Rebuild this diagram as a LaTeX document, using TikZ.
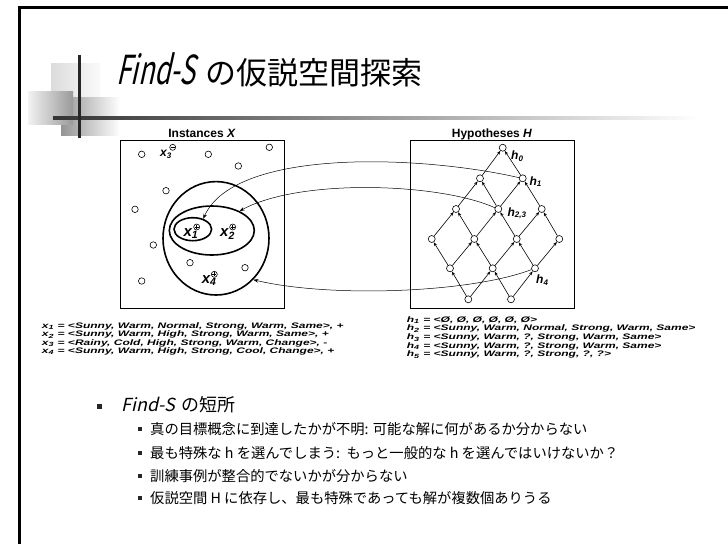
\documentclass[tikz,border=0pt]{standalone}
\usepackage{fontspec}
\setmainfont{Liberation Sans}
\newfontfamily\jp{Noto Sans CJK JP}
\newfontfamily\jpit[FakeSlant=0.22]{Noto Sans CJK JP}
\newfontfamily\jptit[FakeSlant=0.22,FakeStretch=0.66]{Noto Sans CJK JP}
\usetikzlibrary{arrows.meta,shapes.geometric}
\begin{document}
\begin{tikzpicture}[x=1pt,y=-1pt,
  hn/.style={circle,draw,line width=0.6pt,fill=white,inner sep=0pt,minimum size=7pt},
  pt/.style={circle,draw,line width=0.6pt,fill=white,inner sep=0pt,minimum size=6.5pt},
  sg/.style={circle,draw,line width=0.6pt,fill=white,inner sep=0pt,minimum size=6pt},
  lat/.style={line width=0.6pt,-{Stealth[length=4pt,width=3pt]}},
  cur/.style={line width=0.5pt,-{Stealth[length=5pt,width=3.5pt]}},
  ell/.style={ellipse,draw,line width=1.6pt,inner sep=0pt},
  box/.style={draw,line width=0.8pt,inner sep=0pt},
  xl/.style={anchor=base west,inner sep=0pt,font=\fontsize{15}{15}\selectfont\bfseries\itshape},
  xs/.style={anchor=base west,inner sep=0pt,font=\fontsize{12}{12}\selectfont\bfseries\itshape},
  hl/.style={anchor=base west,inner sep=0pt,font=\fontsize{12}{12}\selectfont\bfseries\itshape},
  tl/.style={anchor=base west,inner sep=0pt,font=\fontsize{8}{8}\selectfont\bfseries\itshape},
  capt/.style={anchor=base,inner sep=0pt,font=\fontsize{12}{12}\selectfont\bfseries},
  bl/.style={anchor=base west,inner sep=0pt,font=\fontsize{14.3}{14.3}\selectfont\jp},
  sqa/.style={fill=black!85,inner sep=0pt,minimum size=5pt},
  sqb/.style={fill=black!85,inner sep=0pt,minimum size=4pt},
  plusmark/.style={line width=0.5pt}
]
\useasboundingbox (0,0) rectangle (728,544);
\fill[white] (0,0) rectangle (728,544);

% slide frame
\draw[line width=3pt] (18,7.5) -- (728,7.5);
\draw[line width=3pt] (19.5,6) -- (19.5,544);

% decoration
\shade[left color=black!14, right color=black!2] (51,63) rectangle (100,97);
\shade[left color=black!42, right color=white] (61,97) rectangle (120,135);
\shade[left color=black!5, right color=black!40] (28,91) rectangle (73,124);
\shade[left color=black!80, right color=white] (53,116.5) rectangle (700,119.5);
\fill[black!85] (77.7,55) rectangle (81,138);

% title
\node[anchor=base west,inner sep=0pt,font=\fontsize{31}{31}\selectfont\jp] (title) at (116,84) {{\fontsize{40}{40}\selectfont\jptit Find-S}\hspace{11pt}の仮説空間探索};

% captions
\node[capt] (capi) at (202,137) {Instances \textit{X}};
\node[capt] (caph) at (492,137) {Hypotheses \textit{H}};

% boxes
\node[box,minimum width=164pt,minimum height=168pt] (ibox) at (202,224) {};
\node[box,minimum width=164pt,minimum height=168pt] (hbox) at (492,224) {};

% instance points
\node[pt] (i1) at (141.7,154.3) {};
\node[pt] (i2) at (208.3,154.3) {};
\node[pt] (i3) at (269.3,147.3) {};
\node[pt] (i4) at (238.3,166) {};
\node[pt] (i5) at (166,190.7) {};
\node[pt] (i6) at (135,209.3) {};
\node[pt] (i7) at (153.3,245) {};
\node[pt] (i8) at (190,262.7) {};
\node[pt] (i9) at (245,267.7) {};
\node[pt] (i10) at (141.7,281) {};

% ellipses
\node[ell,minimum width=106pt,minimum height=113.4pt] (outer) at (216,238.3) {};
\node[ell,minimum width=85pt,minimum height=49pt] (middle) at (211.8,230.5) {};
\node[ell,minimum width=37.6pt,minimum height=23pt] (inner) at (192.8,229.2) {};

% labelled instances
\node[xs] (x3) at (160,156.7) {x\textsubscript{3}};
\node[sg] (m3) at (172.7,147.3) {};
\draw[plusmark] ([xshift=-2pt]m3.center) -- ([xshift=2pt]m3.center);
\node[xl] (x1) at (183.3,236.7) {x\textsubscript{1}};
\node[sg] (p1) at (196.7,227) {};
\draw[plusmark] ([xshift=-2pt]p1.center) -- ([xshift=2pt]p1.center) ([yshift=-2pt]p1.center) -- ([yshift=2pt]p1.center);
\node[xl] (x2) at (220,236.7) {x\textsubscript{2}};
\node[sg] (p2) at (232.7,227) {};
\draw[plusmark] ([xshift=-2pt]p2.center) -- ([xshift=2pt]p2.center) ([yshift=-2pt]p2.center) -- ([yshift=2pt]p2.center);
\node[xl] (x4) at (201.7,283.3) {x\textsubscript{4}};
\node[sg] (p4) at (214.3,274.3) {};
\draw[plusmark] ([xshift=-2pt]p4.center) -- ([xshift=2pt]p4.center) ([yshift=-2pt]p4.center) -- ([yshift=2pt]p4.center);

% hypothesis lattice
\node[hn] (h0) at (502.7,147.7) {};
\node[hn] (a1) at (480,178.3) {};
\node[hn] (a2) at (522.7,178.3) {};
\node[hn] (b1) at (456,209) {};
\node[hn] (b2) at (498.3,209) {};
\node[hn] (b3) at (541.7,209) {};
\node[hn] (c1) at (431.7,239) {};
\node[hn] (c2) at (474.3,239) {};
\node[hn] (c3) at (516.7,239) {};
\node[hn] (c4) at (559.3,239) {};
\node[hn] (d1) at (450,268.3) {};
\node[hn] (d2) at (492.7,268.3) {};
\node[hn] (d3) at (535,268.3) {};
\node[hn] (e1) at (468.3,299.3) {};
\node[hn] (e2) at (511,299.3) {};

\foreach \s/\t in {a1/h0,a2/h0,b1/a1,b2/a1,b2/a2,b3/a2,c1/b1,c2/b1,c2/b2,c3/b2,c3/b3,c4/b3,d1/c1,d1/c2,d2/c2,d2/c3,d3/c3,d3/c4,e1/d1,e1/d2,e2/d2,e2/d3}
  \draw[lat] (\s) -- (\t);

\node[hl] (lh0) at (511,159.3) {h\textsubscript{0}};
\node[hl] (lh1) at (529.3,185) {h\textsubscript{1}};
\node[hl] (lh23) at (507.3,216) {h\textsubscript{2,3}};
\node[hl] (lh4) at (536,283.3) {h\textsubscript{4}};

% curved connectors
\draw[cur] (a2.170) .. controls (420,155) and (235,148) .. (inner.45);
\draw[cur] (b2.160) .. controls (440,183) and (300,178) .. (middle.35);
\draw[cur] (d3.200) .. controls (470,293) and (330,298) .. (outer.-48);

% example texts
\node[tl] (tx1) at (41.7,328.6) {\scalebox{1.5}[1]{x\textsubscript{1} = <Sunny, Warm, Normal, Strong, Warm, Same>, +}};
\node[tl] (tx2) at (41.7,336.9) {\scalebox{1.5}[1]{x\textsubscript{2} = <Sunny, Warm, High, Strong, Warm, Same>, +}};
\node[tl] (tx3) at (41.7,345.2) {\scalebox{1.5}[1]{x\textsubscript{3} = <Rainy, Cold, High, Strong, Warm, Change>, -}};
\node[tl] (tx4) at (41.7,353.6) {\scalebox{1.5}[1]{x\textsubscript{4} = <Sunny, Warm, High, Strong, Cool, Change>, +}};

\node[tl] (th1) at (406.7,322.2) {\scalebox{1.5}[1]{h\textsubscript{1} = <Ø, Ø, Ø, Ø, Ø, Ø>}};
\node[tl] (th2) at (406.7,330.9) {\scalebox{1.5}[1]{h\textsubscript{2} = <Sunny, Warm, Normal, Strong, Warm, Same>}};
\node[tl] (th3) at (406.7,339.6) {\scalebox{1.5}[1]{h\textsubscript{3} = <Sunny, Warm, ?, Strong, Warm, Same>}};
\node[tl] (th4) at (406.7,348.2) {\scalebox{1.5}[1]{h\textsubscript{4} = <Sunny, Warm, ?, Strong, Warm, Same>}};
\node[tl] (th5) at (406.7,356.9) {\scalebox{1.5}[1]{h\textsubscript{5} = <Sunny, Warm, ?, Strong, ?, ?>}};

% bullets
\node[sqa] (s0) at (99.3,406.7) {};
\node[anchor=base west,inner sep=0pt,font=\fontsize{18}{18}\selectfont\jp] (b0) at (121.7,411.8) {{\jpit Find-S}\hspace{6pt}の短所};
\node[sqb] (s1) at (140,429.3) {};
\node[bl] (t1) at (150,434.7) {真の目標概念に到達したかが不明: 可能な解に何があるか分からない};
\node[sqb] (s2) at (140,452.7) {};
\node[bl] (t2) at (150,458.1) {最も特殊な h を選んでしまう:\ \ もっと一般的な h を選んではいけないか？};
\node[sqb] (s3) at (140,476) {};
\node[bl] (t3) at (150,481.4) {訓練事例が整合的でないかが分からない};
\node[sqb] (s4) at (140,498.3) {};
\node[bl] (t4) at (150,503.7) {仮説空間 H に依存し、最も特殊であっても解が複数個ありうる};
\end{tikzpicture}
\end{document}
